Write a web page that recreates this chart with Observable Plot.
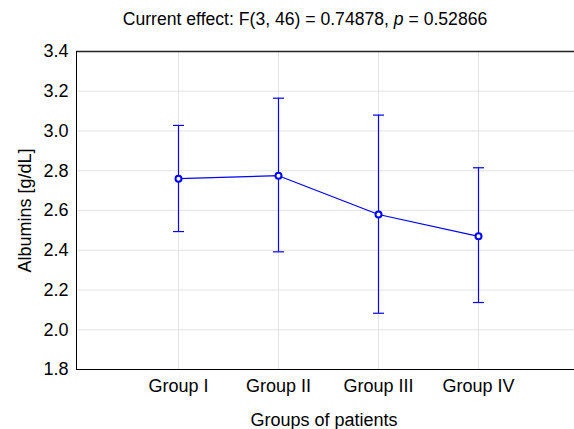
<!DOCTYPE html>
<html><head><meta charset="utf-8">
<script src="https://cdn.jsdelivr.net/npm/d3@7"></script>
<script src="https://cdn.jsdelivr.net/npm/@observablehq/plot@0.6"></script>
<style>
body{margin:0;background:#fff;font-family:"Liberation Sans",Arial,sans-serif;}
#wrap{width:574px;height:429px;overflow:hidden;position:relative;}
#title{box-sizing:border-box;width:574px;height:32px;padding-top:9px;padding-left:36px;text-align:center;font-size:17.6px;line-height:20px;color:#000;white-space:nowrap;}
svg{display:block}
</style>
</head><body>
<div id="wrap">
<div id="title">Current effect: F(3, 46) = 0.74878, <i>p</i> = 0.52866</div>
<div id="chart"></div>
</div>
<script>
const groups = ["Group I", "Group II", "Group III", "Group IV"];
const means = [2.76, 2.775, 2.58, 2.47];
const upper = [3.028, 3.165, 3.08, 2.815];
const lower = [2.494, 2.392, 2.083, 2.137];
const yTicks = [1.8, 2.0, 2.2, 2.4, 2.6, 2.8, 3.0, 3.2, 3.4];
const xLabel = "Groups of patients";
const yLabel = "Albumins [g/dL]";

const data = groups.map((g, i) => ({group: g, mean: means[i], hi: upper[i], lo: lower[i]}));
const blue = "#0000ff";
const fs = 18;
const capSymbol = {draw(context) { context.moveTo(-5.5, 0); context.lineTo(5.5, 0); }};

const chart = Plot.plot({
  width: 574,
  height: 397,
  marginTop: 19,
  marginBottom: 60,
  marginLeft: 76,
  marginRight: 0,
  style: {fontFamily: '"Liberation Sans", Arial, sans-serif', fontSize: fs + "px", background: "#fff", color: "#000"},
  x: {type: "point", domain: groups, padding: 1, range: [76, 580]},
  y: {domain: [1.8, 3.4]},
  marks: [
    Plot.gridY(yTicks, {stroke: "#e3e3e3", strokeOpacity: 1, strokeWidth: 1}),
    Plot.gridX(groups, {stroke: "#e3e3e3", strokeOpacity: 1, strokeWidth: 1}),
    Plot.ruleY([3.4], {stroke: "#222", strokeWidth: 1.5}),
    Plot.ruleY([1.8], {stroke: "#000", strokeWidth: 1}),
    Plot.frame({anchor: "left", stroke: "#000", strokeWidth: 1}),
    Plot.axisY(yTicks, {tickSize: 0, tickPadding: 8, tickFormat: d3.format(".1f"), label: null, fontSize: fs}),
    Plot.axisX(groups, {tickSize: 0, tickPadding: 10, label: null, fontSize: fs}),
    Plot.text([yLabel], {frameAnchor: "left", textAnchor: "middle", rotate: -90, dx: -51, fontSize: fs}),
    Plot.text([xLabel], {frameAnchor: "bottom", dy: 56, dx: -1.5, fontSize: fs}),
    Plot.ruleX(data, {x: "group", y1: "lo", y2: "hi", stroke: blue, strokeWidth: 1.2}),
    Plot.dot(data, {x: "group", y: "hi", symbol: capSymbol, stroke: blue, strokeWidth: 1.2, fill: "none"}),
    Plot.dot(data, {x: "group", y: "lo", symbol: capSymbol, stroke: blue, strokeWidth: 1.2, fill: "none"}),
    Plot.line(data, {x: "group", y: "mean", stroke: blue, strokeWidth: 1.2}),
    Plot.dot(data, {x: "group", y: "mean", r: 3, stroke: blue, strokeWidth: 2, fill: "#fff"})
  ]
});
document.getElementById("chart").appendChild(chart);
</script>
</body></html>
